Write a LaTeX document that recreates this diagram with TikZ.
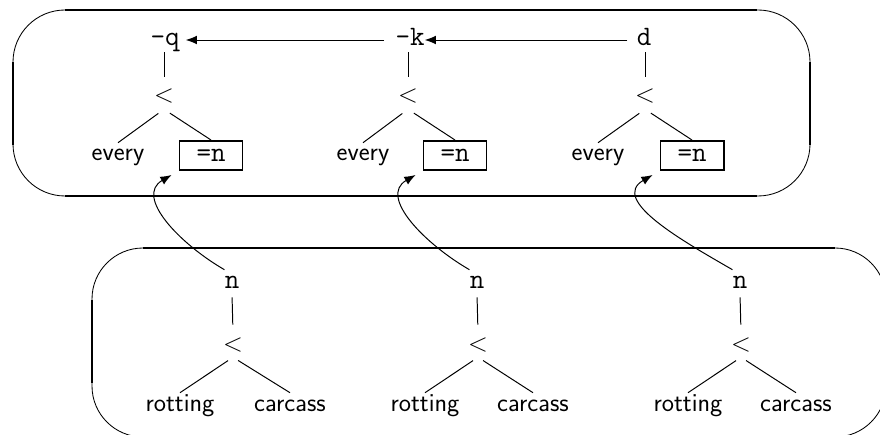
\documentclass[tikz,border=0pt]{standalone}
\usepackage{tikz}
\usetikzlibrary{arrows.meta,positioning}

\tikzset{
  wd/.style={font=\sffamily\fontsize{18.5}{22}\selectfont, inner sep=0pt,
    text height=0.45cm, text depth=0.15cm},
  tt/.style={font=\ttfamily\fontsize{20}{24}\selectfont, inner sep=0pt,
    text height=0.45cm, text depth=0.15cm},
  var/.style={tt, draw, line width=1.4pt, minimum width=1.575cm, minimum height=0.725cm},
  edge/.style={line width=0.7pt},
  link/.style={line width=0.7pt, -{Latex[length=0.28cm,width=0.22cm]}},
  frame/.style={line width=0.6pt},
  side/.style={line width=2.1pt}
}

\begin{document}
\begin{tikzpicture}[x=0.025cm, y=0.025cm]
    \useasboundingbox (0,0) rectangle (880,434);
    \clip (0,0) rectangle (880,434);
    % frames: thin corners, thick straight sides
    \draw[frame, rounded corners=1.3cm] (13,424) rectangle (810,238);
    \draw[side] (65,424) -- (757,424) (65,238) -- (757,238)
      (13,372) -- (13,289) (810,372) -- (810,289);
    \draw[frame, rounded corners=1.275cm] (92,186) rectangle (886,-3);
    \draw[side] (143,186) -- (835,186) (92,134) -- (92,51) (886,134) -- (886,51);

    % upper trees
    \node[tt] (q) at (165, 394) {-q};
    \node[wd] (ltq) at (164, 337) {<};
    \node[wd] (evq) at (118, 279) {every};
    \node[var] (nq) at (211, 278.5) {=n};
    \node[tt] (k) at (410, 394) {-k};
    \node[wd] (ltk) at (408, 337) {<};
    \node[wd] (evk) at (363, 279) {every};
    \node[var] (nk) at (455, 278.5) {=n};
    \node[tt] (d) at (644, 394) {d};
    \node[wd] (ltd) at (645, 337) {<};
    \node[wd] (evd) at (598, 279) {every};
    \node[var] (nd) at (692, 278.5) {=n};

    \draw[edge, shorten >=0.2cm] (q.south -| ltq) -- (ltq.north);
    \draw[edge, shorten <=0.175cm] (ltq.south) -- (evq.north);
    \draw[edge, shorten <=0.175cm] (ltq.south) -- (nq.north);
    \draw[edge, shorten >=0.2cm] (k.south -| ltk) -- (ltk.north);
    \draw[edge, shorten <=0.175cm] (ltk.south) -- (evk.north);
    \draw[edge, shorten <=0.175cm] (ltk.south) -- (nk.north);
    \draw[edge, shorten >=0.2cm] (d.south -| ltd) -- (ltd.north);
    \draw[edge, shorten <=0.175cm] (ltd.south) -- (evd.north);
    \draw[edge, shorten <=0.175cm] (ltd.south) -- (nd.north);

    \draw[link, shorten <=0.225cm] (d.west) -- (k.east);
    \draw[link, shorten <=0.275cm, shorten >=0.15cm] (k.west) -- (q.east);

    % lower trees
    \node[tt] (n1) at (232, 152) {n};
    \node[wd] (lt1) at (233, 89) {<};
    \node[wd] (rot1) at (180, 29) {rotting};
    \node[wd] (car1) at (290, 29) {carcass};
    \node[tt] (n2) at (477, 152) {n};
    \node[wd] (lt2) at (478, 89) {<};
    \node[wd] (rot2) at (425, 29) {rotting};
    \node[wd] (car2) at (533, 29) {carcass};
    \node[tt] (n3) at (740, 152) {n};
    \node[wd] (lt3) at (741, 89) {<};
    \node[wd] (rot3) at (688, 29) {rotting};
    \node[wd] (car3) at (796, 29) {carcass};

    \draw[edge, shorten <=0.075cm, shorten >=0.2cm] (n1.south) -- (lt1.north);
    \draw[edge, shorten <=0.15cm] (lt1.south) -- (rot1.north);
    \draw[edge, shorten <=0.15cm] (lt1.south) -- (car1.north);
    \draw[edge, shorten <=0.075cm, shorten >=0.2cm] (n2.south) -- (lt2.north);
    \draw[edge, shorten <=0.15cm] (lt2.south) -- (rot2.north);
    \draw[edge, shorten <=0.15cm] (lt2.south) -- (car2.north);
    \draw[edge, shorten <=0.075cm, shorten >=0.2cm] (n3.south) -- (lt3.north);
    \draw[edge, shorten <=0.15cm] (lt3.south) -- (rot3.north);
    \draw[edge, shorten <=0.15cm] (lt3.south) -- (car3.north);

    % bindings
    \draw[link, shorten >=0.2cm] (n1.north west) to[out=150, in=-150, looseness=1.2] (nq.south west);
    \draw[link, shorten >=0.2cm] (n2.north west) to[out=150, in=-150, looseness=1.2] (nk.south west);
    \draw[link, shorten >=0.2cm] (n3.north west) to[out=150, in=-150, looseness=1.2] (nd.south west);
  \end{tikzpicture}
\end{document}
